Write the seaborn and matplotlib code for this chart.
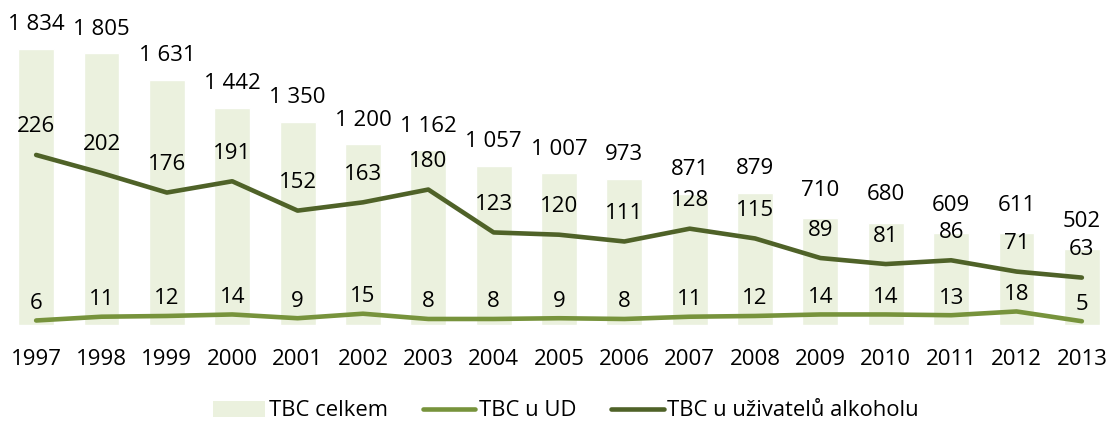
import numpy as np
import pandas as pd
import matplotlib
matplotlib.use("Agg")
import matplotlib.pyplot as plt
import seaborn as sns
from matplotlib.patches import Patch
from matplotlib.lines import Line2D

# Data
years = ["1997", "1998", "1999", "2000", "2001", "2002", "2003", "2004", "2005",
         "2006", "2007", "2008", "2009", "2010", "2011", "2012", "2013"]
tbc_total = [1834, 1805, 1631, 1442, 1350, 1200, 1162, 1057, 1007,
             973, 871, 879, 710, 680, 609, 611, 502]
tbc_ud = [6, 11, 12, 14, 9, 15, 8, 8, 9, 8, 11, 12, 14, 14, 13, 18, 5]
tbc_alcohol = [226, 202, 176, 191, 152, 163, 180, 123, 120,
               111, 128, 115, 89, 81, 86, 71, 63]

labels = ["TBC celkem", "TBC u UD", "TBC u uživatelů alkoholu"]
col_bar = "#EBF1DE"
col_ud = "#77933C"
col_alc = "#4F6228"


def fmt(v):
    return f"{v:,}".replace(",", " ")


sns.set_style("white")
plt.rcParams['font.family'] = ['Open Sans', 'DejaVu Sans']
plt.rcParams['text.color'] = 'black'
plt.rcParams['xtick.color'] = 'black'
fs = 16
lw = 3.3

df = pd.DataFrame({"year": years, "total": tbc_total,
                   "ud": tbc_ud, "alc": tbc_alcohol})
df["pos"] = np.arange(len(years))

fig = plt.figure(figsize=(11.07, 4.21), dpi=100)
ax = fig.add_axes([10 / 1107, 96 / 421, 1098 / 1107, 301 / 421])

sns.barplot(data=df, x="year", y="total", color=col_bar, saturation=1,
            width=0.55, ax=ax)
ax.set_ylim(0, 2000)
ax.set_xlim(-0.4, len(years) - 0.6)

ax2 = ax.twinx()
sns.lineplot(data=df, x="pos", y="ud", color=col_ud, linewidth=lw, ax=ax2)
sns.lineplot(data=df, x="pos", y="alc", color=col_alc, linewidth=lw, ax=ax2)
ax2.set_ylim(0, 400)
ax2.set_xlim(-0.4, len(years) - 0.6)

# value labels (bar labels pushed up a bit more where the bars get short)
for i, row in df.iterrows():
    bar_off = 24 if row["total"] > 800 else 28
    ax.annotate(fmt(row["total"]), (row["pos"], row["total"]),
                xytext=(0, bar_off), textcoords="offset pixels",
                ha="center", va="center", fontsize=fs)
    ax2.annotate(fmt(row["alc"]), (row["pos"], row["alc"]),
                 xytext=(0, 28), textcoords="offset pixels",
                 ha="center", va="center", fontsize=fs)
    ax2.annotate(fmt(row["ud"]), (row["pos"], row["ud"]),
                 xytext=(0, 17), textcoords="offset pixels",
                 ha="center", va="center", fontsize=fs)

for a in (ax, ax2):
    a.set_xlabel("")
    a.set_ylabel("")
    a.set_yticks([])
    for s in a.spines.values():
        s.set_visible(False)
ax.tick_params(axis="x", length=0, pad=17, labelsize=fs)
ax2.tick_params(axis="x", length=0)

handles = [Patch(facecolor=col_bar, edgecolor="none"),
           Line2D([], [], color=col_ud, linewidth=lw),
           Line2D([], [], color=col_alc, linewidth=lw)]
fig.legend(handles, labels, loc="center", bbox_to_anchor=(0.511, 10 / 421),
           ncol=3, frameon=False, fontsize=15.8, handlelength=2.4,
           handletextpad=0.15, columnspacing=1.6)

fig.savefig("out.png", dpi=100)
